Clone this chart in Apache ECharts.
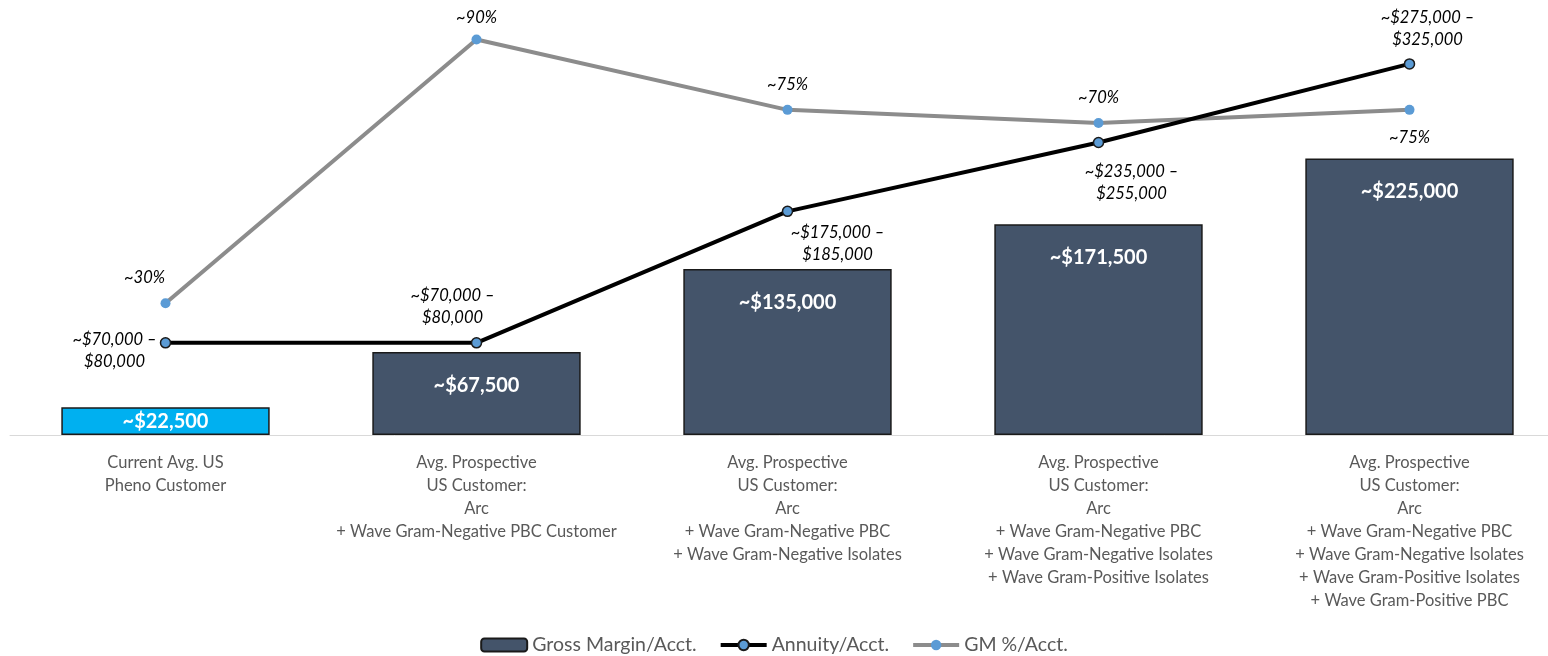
<!DOCTYPE html>
<html>
<head>
<meta charset="utf-8">
<script src="https://cdn.jsdelivr.net/npm/echarts@6/dist/echarts.min.js"></script>
<style>
  html, body { margin: 0; padding: 0; background: #fff; }
  #main { width: 1548px; height: 656px; }
</style>
</head>
<body>
<div id="main"></div>
<script>
var categories = [
    'Current Avg. US\nPheno Customer',
    'Avg. Prospective\nUS Customer:\nArc\n+ Wave Gram-Negative PBC Customer',
    'Avg. Prospective\nUS Customer:\nArc\n+ Wave Gram-Negative PBC\n+ Wave Gram-Negative Isolates',
    'Avg. Prospective\nUS Customer:\nArc\n+ Wave Gram-Negative PBC\n+ Wave Gram-Negative Isolates\n+ Wave Gram-Positive Isolates',
    'Avg. Prospective\nUS Customer:\nArc\n+ Wave Gram-Negative PBC\n+ Wave Gram-Negative Isolates\n+ Wave Gram-Positive Isolates\n+ Wave Gram-Positive PBC'
];
var grossMargin = [22500, 67500, 135000, 171500, 225000];
var grossLabels = ['~$22,500', '~$67,500', '~$135,000', '~$171,500', '~$225,000'];
var annuity = [75000, 75000, 182000, 238000, 302000];
var annuityLabels = ['~$70,000 –\n$80,000', '~$70,000 –\n$80,000', '~$175,000 –\n$185,000', '~$235,000 –\n$255,000', '~$275,000 –\n$325,000'];
var gmPct = [30, 90, 74, 71, 74];
var gmLabels = ['~30%', '~90%', '~75%', '~70%', '~75%'];

// label nudges from the point centre
var annuityOffsets = [[-51, 8], [-24, -36], [50, 32], [33, 40], [18, -35]];
var gmOffsets = [[-21, -26], [0, -22], [0, -25], [0, -25], [0, 28]];

var myChart = echarts.init(document.getElementById('main'));

var font = 'Lato, "Open Sans", sans-serif';

var barData = grossMargin.map(function (v, i) {
    var item = { value: v, label: { formatter: grossLabels[i] } };
    if (i === 0) {
        item.itemStyle = { color: '#00B0F0' };
        item.label.position = 'inside';
    }
    return item;
});

var annuityData = annuity.map(function (v, i) {
    return { value: v, label: { formatter: annuityLabels[i], offset: annuityOffsets[i] } };
});

var gmData = gmPct.map(function (v, i) {
    return { value: v, label: { formatter: gmLabels[i], offset: gmOffsets[i] } };
});

var option = {
    backgroundColor: '#ffffff',
    animation: false,
    textStyle: { fontFamily: font },
    grid: { left: 10, top: 0, width: 1555, height: 435, outerBoundsMode: 'none', containLabel: false },
    legend: {
        bottom: -4,
        left: 'center',
        itemWidth: 46,
        itemHeight: 13,
        itemGap: 22,
        lineStyle: { width: 4 },
        textStyle: { color: '#595959', fontSize: 19.5, fontFamily: font },
        data: ['Gross Margin/Acct.', 'Annuity/Acct.', 'GM %/Acct.']
    },
    xAxis: {
        type: 'category',
        data: categories,
        axisLine: { lineStyle: { color: '#d9d9d9', width: 1 } },
        axisTick: { show: false },
        axisLabel: {
            interval: 0,
            color: '#595959',
            fontSize: 16.5,
            lineHeight: 23,
            margin: 16,
            fontFamily: font
        }
    },
    yAxis: [
        { type: 'value', min: 0, max: 354000, show: false, splitLine: { show: false } },
        { type: 'value', min: 0, max: 99, show: false, splitLine: { show: false } }
    ],
    series: [
        {
            name: 'Gross Margin/Acct.',
            type: 'bar',
            barWidth: '67%',
            data: barData,
            itemStyle: { color: '#44546A', borderColor: '#1a1a1a', borderWidth: 1.5 },
            label: {
                show: true,
                position: 'insideTop',
                distance: 23,
                color: '#ffffff',
                fontWeight: 'bold',
                fontSize: 20,
                fontFamily: font
            },
            z: 1
        },
        {
            name: 'Annuity/Acct.',
            type: 'line',
            data: annuityData,
            symbol: 'circle',
            symbolSize: 10,
            lineStyle: { color: '#000000', width: 4 },
            itemStyle: { color: '#5B9BD5', borderColor: '#1a1a1a', borderWidth: 1.5 },
            label: {
                show: true,
                position: 'inside',
                color: '#000000',
                fontStyle: 'italic',
                fontSize: 16.5,
                lineHeight: 22,
                align: 'center',
                fontFamily: font
            },
            z: 3
        },
        {
            name: 'GM %/Acct.',
            type: 'line',
            yAxisIndex: 1,
            data: gmData,
            symbol: 'circle',
            symbolSize: 10,
            lineStyle: { color: '#8c8c8c', width: 4 },
            itemStyle: { color: '#5B9BD5', borderColor: '#5B9BD5', borderWidth: 0 },
            label: {
                show: true,
                position: 'inside',
                color: '#000000',
                fontStyle: 'italic',
                fontSize: 16.5,
                fontFamily: font
            },
            z: 2
        }
    ]
};

myChart.setOption(option);
</script>
</body>
</html>
